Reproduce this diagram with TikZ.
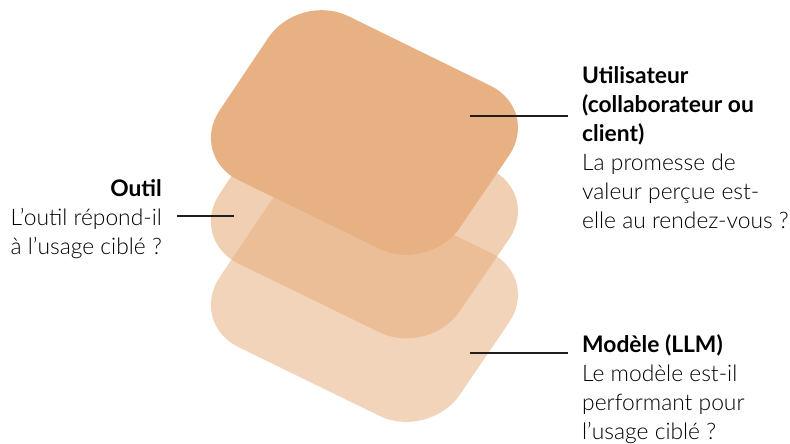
\documentclass[tikz,border=0pt]{standalone}
\usepackage{fontspec}
\setmainfont{Lato}
\newfontfamily\lalight{Lato Light}
\definecolor{peach}{RGB}{232,177,131}
\definecolor{ink}{RGB}{34,30,32}
\begin{document}
\begin{tikzpicture}[x=1pt,y=-1pt,
  layer/.style={fill=peach, rounded corners=55pt},
  lbl/.style={inner sep=0pt, font=\fontsize{22.8}{29}\selectfont},
  conn/.style={draw=ink, line width=2pt}]
\useasboundingbox (0,0) rectangle (790,444);
% bottom layer
\path[layer, fill opacity=0.55] (299,159) -- (540,277) -- (429,440) -- (189,323) -- cycle;
% middle layer
\path[layer, fill opacity=0.62] (299,75.5) -- (540,193.5) -- (429,356.5) -- (189,239.5) -- cycle;
% top layer
\path[layer] (299,-8) -- (540,110) -- (429,273) -- (189,156) -- cycle;

% multi-line nodes: base anchor = baseline of the last line
\node[lbl, anchor=base west, align=left] (user) at (582,228)
  {\bfseries Utilisateur\\\bfseries(collaborateur ou\\\bfseries client)\\
   \lalight La promesse de\\\lalight valeur perçue est-\\\lalight elle au rendez-vous ?};
\node[lbl, anchor=base west, align=left] (model) at (582,439)
  {\bfseries Modèle (LLM)\\\lalight Le modèle est-il\\\lalight performant pour\\\lalight l’usage ciblé ?};
\node[lbl, anchor=base east, align=right] (tool) at (162,254)
  {\bfseries Outil\\\lalight L’outil répond-il\\\lalight à l’usage ciblé ?};

\coordinate (u1) at (470,116); \coordinate (u2) at (568,116);
\coordinate (m1) at (470,353); \coordinate (m2) at (568,353);
\coordinate (t1) at (177,216); \coordinate (t2) at (234,216);
\draw[conn] (u1) -- (u2);
\draw[conn] (m1) -- (m2);
\draw[conn] (t1) -- (t2);
\end{tikzpicture}
\end{document}
